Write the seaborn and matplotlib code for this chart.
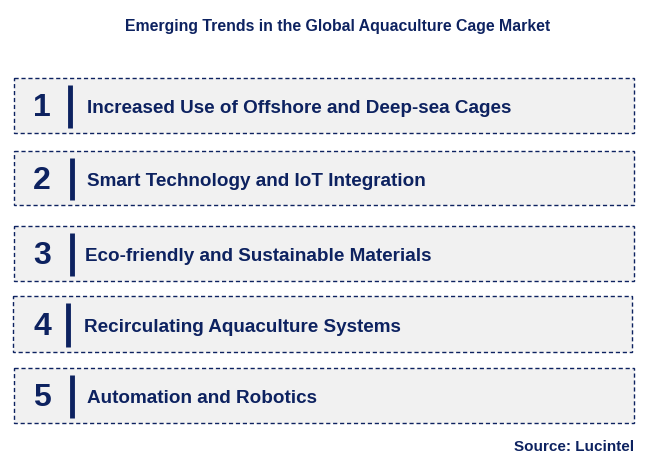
import matplotlib
matplotlib.use("Agg")
import matplotlib.pyplot as plt
import seaborn as sns
from matplotlib.patches import Rectangle

sns.set_theme(style="white")

title = "Emerging Trends in the Global Aquaculture Cage Market"
numbers = ["1", "2", "3", "4", "5"]
labels = ["Increased Use of Offshore and Deep-sea Cages",
          "Smart Technology and IoT Integration",
          "Eco-friendly and Sustainable Materials",
          "Recirculating Aquaculture Systems",
          "Automation and Robotics"]
box_left = [14, 14, 14, 13, 14]
box_right = [634, 634, 634, 632, 634]
box_top = [78, 151, 226, 296, 368]
box_bottom = [133, 205, 281, 352, 423]
bar_x = [70, 72, 72, 68, 72]
text_x = [87, 87, 85, 84, 87]
source = "Source: Lucintel"

navy = "#0d2260"
fig = plt.figure(figsize=(6.48, 4.59), dpi=100)
ax = fig.add_axes([0, 0, 1, 1])
ax.set_xlim(0, 648)
ax.set_ylim(459, 0)
ax.axis("off")

ax.text(338, 27, title, ha="center", va="center", fontsize=11.4, fontweight="bold",
        color=navy, family="Liberation Sans")
for n, lab, l, r, t, b, bx, tx in zip(numbers, labels, box_left, box_right, box_top,
                                       box_bottom, bar_x, text_x):
    ax.add_patch(Rectangle((l, t), r - l, b - t, facecolor="#f1f1f1", edgecolor=navy,
                           linestyle=(0, (3, 2)), linewidth=1))
    cy = (t + b) / 2
    ax.text(42, cy + 3, n, ha="center", va="center", fontsize=23, fontweight="bold",
            color=navy, family="Liberation Sans")
    ax.plot([bx, bx], [t + 7, b - 5], color=navy, linewidth=3.5, solid_capstyle="butt")
    ax.text(tx, cy + 3, lab, ha="left", va="center", fontsize=13.6, fontweight="bold",
            color=navy, family="Liberation Sans")
ax.text(634, 447, source, ha="right", va="center", fontsize=11, fontweight="bold",
        color=navy, family="Liberation Sans")
fig.savefig("out.png", dpi=100)
